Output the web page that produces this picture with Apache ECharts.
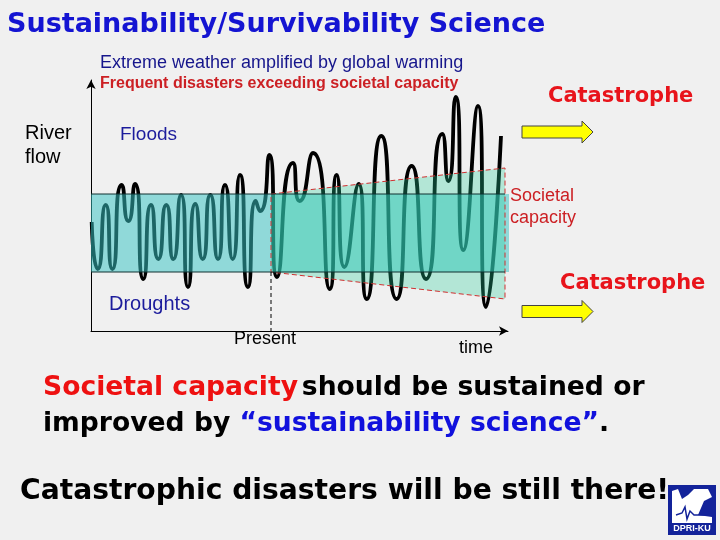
<!DOCTYPE html>
<html>
<head>
<meta charset="utf-8">
<script src="https://cdn.jsdelivr.net/npm/echarts@6/dist/echarts.min.js"></script>
<style>html,body{margin:0;padding:0;background:#f0f0f0;}#c{width:720px;height:540px;}</style>
</head>
<body>
<div id="c"></div>
<script>
// River flow over time (arbitrary units): local peaks and troughs
const time = [0.7, 6.7, 14.7, 21.3, 30.7, 37.3, 44, 52.3, 60, 67.3, 75.3, 82.3, 90, 97, 104.3, 111.7, 119.3, 127, 134, 141.7, 149, 157, 164.7, 169, 178.3, 186, 202, 208.7, 222, 238.7, 245.7, 253.3, 267.7, 275.7, 290.3, 305.7, 320.7, 335, 351.3, 357.3, 364.7, 372.3, 387, 395, 410];
const flow = [109, 62, 126, 62, 146, 110, 147, 52, 126, 72, 126, 72, 136, 44, 127, 72, 136, 72, 146, 72, 156, 44, 130, 120, 176, 54, 168, 130, 178, 42, 156, 64, 147, 32, 195, 32, 165, 52, 197, 150, 234, 81, 225, 24, 195];
// Present societal capacity band
const bandTime = [0, 418];
const bandLow = 59;
const bandHigh = 137;
const bandEdgeEnd = 414;
// Future capacity (trapezoid)
const capTime = [180, 414];
const capHigh = [137, 163];
const capLow = [59, 32];
const presentTime = 180;

const chart = echarts.init(document.getElementById('c'));
const F = 'Liberation Sans, Arial, sans-serif';
const D = 'DejaVu Sans, Verdana, sans-serif';

function txt(x, y, s, size, color, weight, font) {
  return {type: 'text', x: x, y: y, z: 100, style: {text: s, fontSize: size, fill: color, fontWeight: weight || 'normal', fontFamily: font || F, align: 'left', verticalAlign: 'middle'}};
}
function arrow(y) {
  return {type: 'polygon', z: 100, shape: {points: [[522, y - 6], [582, y - 6], [582, y - 11], [593, y], [582, y + 11], [582, y + 6], [522, y + 6]]},
    style: {fill: '#ffff00', stroke: '#444', lineWidth: 1}};
}

const option = {
  backgroundColor: '#f0f0f0',
  animation: false,
  grid: {left: 91, top: 80, width: 417, height: 251},
  xAxis: {type: 'value', min: 0, max: 417, axisLine: {show: true, symbol: ['none', 'arrow'], symbolSize: [7, 9], lineStyle: {color: '#000', width: 1}}, axisTick: {show: false}, axisLabel: {show: false}, splitLine: {show: false}},
  yAxis: {type: 'value', min: 0, max: 251, axisLine: {show: true, symbol: ['none', 'arrow'], symbolSize: [7, 9], lineStyle: {color: '#000', width: 1}}, axisTick: {show: false}, axisLabel: {show: false}, splitLine: {show: false}},
  series: [
    {
      type: 'line', z: 2, smooth: 0.8, symbol: 'none',
      data: time.map((t, i) => [t, flow[i]]),
      lineStyle: {color: '#000', width: 3.8}
    },
    {
      type: 'custom', z: 3, data: [0],
      renderItem: function (params, api) {
        const a = api.coord([bandTime[0], bandHigh]);
        const b = api.coord([bandTime[1], bandLow]);
        return {type: 'rect', shape: {x: a[0], y: a[1], width: b[0] - a[0], height: b[1] - a[1]},
          style: {fill: 'rgba(55,195,195,0.52)'}};
      }
    },
    {
      type: 'custom', z: 4, data: [0],
      renderItem: function (params, api) {
        const pts = [api.coord([capTime[0], capHigh[0]]), api.coord([capTime[1], capHigh[1]]),
          api.coord([capTime[1], capLow[1]]), api.coord([capTime[0], capLow[0]])];
        return {type: 'polygon', shape: {points: pts},
          style: {fill: 'rgba(40,207,157,0.3)', stroke: '#d03030', lineWidth: 1, lineDash: [5, 3]}};
      }
    },
    {
      type: 'custom', z: 5, data: [0],
      renderItem: function (params, api) {
        const t1 = api.coord([bandTime[0], bandHigh]), t2 = api.coord([bandEdgeEnd, bandHigh]);
        const b1 = api.coord([bandTime[0], bandLow]), b2 = api.coord([bandEdgeEnd, bandLow]);
        const p1 = api.coord([presentTime, bandLow]), p2 = api.coord([presentTime, 0]);
        return {type: 'group', children: [
          {type: 'line', shape: {x1: t1[0], y1: t1[1], x2: t2[0], y2: t2[1]}, style: {stroke: '#103030', lineWidth: 1}},
          {type: 'line', shape: {x1: b1[0], y1: b1[1], x2: b2[0], y2: b2[1]}, style: {stroke: '#103030', lineWidth: 1}},
          {type: 'line', shape: {x1: p1[0], y1: p1[1], x2: p2[0], y2: p2[1]}, style: {stroke: '#000', lineWidth: 1, lineDash: [4, 3]}}
        ]};
      }
    }
  ],
  graphic: [
    txt(7, 25, 'Sustainability/Survivability Science', 27, '#1414d2', 'bold', D),
    txt(100, 63, 'Extreme weather amplified by global warming', 18, '#16168c'),
    txt(100, 84, 'Frequent disasters exceeding societal capacity', 16, '#cc2024', 'bold'),
    txt(25, 133, 'River', 20, '#000'),
    txt(25, 157, 'flow', 20, '#000'),
    txt(120, 135, 'Floods', 19, '#1c1c9c'),
    txt(109, 304, 'Droughts', 20, '#1c1c9c'),
    txt(234, 339, 'Present', 18, '#000'),
    txt(459, 348, 'time', 18, '#000'),
    txt(510, 196, 'Societal', 18, '#cc2024'),
    txt(510, 218, 'capacity', 18, '#cc2024'),
    txt(548, 97, 'Catastrophe', 21, '#e8141b', 'bold', D),
    txt(560, 284, 'Catastrophe', 21, '#e8141b', 'bold', D),
    arrow(132),
    arrow(311.5),
    {type: 'text', x: 43, y: 388, z: 100, style: {
      text: '{r|Societal capacity} {k|should be sustained or}', fontFamily: D, verticalAlign: 'middle',
      rich: {r: {fontSize: 26.6, fontWeight: 'bold', fill: '#ee1111', fontFamily: D}, k: {fontSize: 26.6, fontWeight: 'bold', fill: '#000', fontFamily: D}}}},
    {type: 'text', x: 43, y: 424, z: 100, style: {
      text: '{k|improved by }{b|\u201csustainability science\u201d}{k|.}', fontFamily: D, verticalAlign: 'middle',
      rich: {b: {fontSize: 26.6, fontWeight: 'bold', fill: '#1111dd', fontFamily: D}, k: {fontSize: 26.6, fontWeight: 'bold', fill: '#000', fontFamily: D}}}},
    txt(20, 492, 'Catastrophic disasters will be still there!', 28.2, '#000', 'bold', D),
    {type: 'group', x: 668, y: 485, z: 100, children: [
      {type: 'rect', shape: {x: 0, y: 0, width: 48, height: 50}, style: {fill: '#13239a'}},
      {type: 'polygon', shape: {points: [[4, 6], [10, 4], [14, 14], [20, 10], [26, 4], [40, 4], [44, 12], [36, 16], [30, 30], [44, 32], [44, 38], [4, 38]]}, style: {fill: '#ffffff'}},
      {type: 'polyline', shape: {points: [[8, 30], [14, 28], [17, 22], [19, 34], [22, 26], [26, 30], [40, 30]]}, style: {stroke: '#13239a', lineWidth: 1.5, fill: null}},
      {type: 'text', x: 24, y: 44, style: {text: 'DPRI-KU', fontSize: 9, fontWeight: 'bold', fill: '#fff', fontFamily: F, align: 'center', verticalAlign: 'middle'}}
    ]}
  ]
};
chart.setOption(option);
</script>
</body>
</html>
